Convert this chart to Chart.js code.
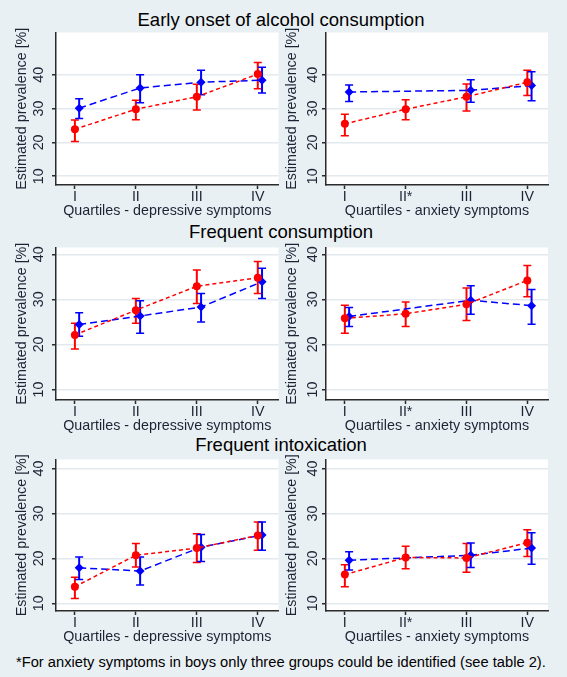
<!DOCTYPE html>
<html>
<head>
<meta charset="utf-8">
<script src="https://cdn.jsdelivr.net/npm/chart.js@4.4.1/dist/chart.umd.min.js"></script>
<style>
  body { margin: 0; background: #e9f0f4; }
  #page { position: relative; width: 567px; height: 677px; background: #e9f0f4; overflow: hidden;
          font-family: "Liberation Sans", Arial, sans-serif; }
  #page canvas { position: absolute; }
  .rowTitle { position: absolute; left: 0; width: 562px; text-align: center; font-size: 18.5px;
              line-height: 20px; color: #000; white-space: nowrap; }
  #note { position: absolute; left: 16px; top: 653.5px; font-size: 14.7px; line-height: 16px;
          color: #000; white-space: nowrap; }
</style>
</head>
<body>
<div id="page">
  <div class="rowTitle" style="top:9.6px">Early onset of alcohol consumption</div>
  <div class="rowTitle" style="top:221.6px">Frequent consumption</div>
  <div class="rowTitle" style="top:435.3px">Frequent intoxication</div>
  <div id="note">*For anxiety symptoms in boys only three groups could be identified (see table 2).</div>
</div>
<script>
// tick labels
const depLabels = ['I', 'II', 'III', 'IV'];
const anxLabels = ['I', 'II*', 'III', 'IV'];
const yTicks = [10, 20, 30, 40];

// Early onset of alcohol consumption (red = girls, blue = boys)
const earlyDepRed = [23.9, 29.8, 33.5, 40.2];
const earlyDepRedLo = [20.3, 26.7, 29.6, 35.9];
const earlyDepRedHi = [26.6, 32.5, 37.2, 43.6];
const earlyDepBlue = [30.1, 36.1, 37.8, 38.4];
const earlyDepBlueLo = [27.1, 31.7, 34.1, 34.6];
const earlyDepBlueHi = [32.9, 40.0, 41.3, 42.2];

const earlyAnxRed = [25.5, 29.8, 33.5, 37.8];
const earlyAnxRedLo = [22.0, 26.7, 29.3, 33.9];
const earlyAnxRedHi = [28.3, 32.6, 37.3, 41.3];
const earlyAnxBlue = [34.9, null, 35.4, 36.8];
const earlyAnxBlueLo = [32.1, null, 31.9, 32.3];
const earlyAnxBlueHi = [37.0, null, 38.5, 40.9];

// Frequent consumption
const consDepRed = [22.1, 27.6, 32.9, 34.8];
const consDepRedLo = [19.0, 24.7, 29.1, 31.3];
const consDepRedHi = [24.7, 30.2, 36.5, 38.4];
const consDepBlue = [24.4, 26.3, 28.3, 33.9];
const consDepBlueLo = [21.8, 22.5, 25.0, 30.2];
const consDepBlueHi = [27.0, 29.7, 31.3, 36.9];

const consAnxRed = [25.8, 26.8, 28.9, 34.2];
const consAnxRedLo = [22.5, 24.0, 25.3, 30.6];
const consAnxRedHi = [28.7, 29.4, 32.5, 37.5];
const consAnxBlue = [26.2, null, 29.8, 28.6];
const consAnxBlueLo = [24.0, null, 26.7, 24.5];
const consAnxBlueHi = [28.2, null, 33.0, 32.2];

// Frequent intoxication
const intoxDepRed = [13.7, 20.7, 22.3, 25.1];
const intoxDepRedLo = [11.1, 18.1, 19.1, 21.8];
const intoxDepRedHi = [15.8, 23.3, 25.5, 28.1];
const intoxDepBlue = [17.9, 17.2, 22.5, 25.2];
const intoxDepBlueLo = [15.3, 14.1, 19.3, 21.8];
const intoxDepBlueHi = [20.3, 20.3, 25.3, 28.1];

const intoxAnxRed = [16.4, 20.2, 20.1, 23.5];
const intoxAnxRedLo = [13.7, 17.7, 16.9, 20.4];
const intoxAnxRedHi = [18.6, 22.7, 23.3, 26.4];
const intoxAnxBlue = [19.6, null, 20.7, 22.3];
const intoxAnxBlueLo = [17.4, null, 18.0, 18.7];
const intoxAnxBlueHi = [21.5, null, 23.4, 25.7];

const RED = 'rgb(255, 0, 0)';
const BLUE = 'rgb(0, 0, 255)';
const AXIS = '#2b2b2b';
const TEXT = '#1c2434';
const FONT = { family: '"Liberation Sans", Arial, sans-serif', size: 14.3 };

// layout of the 3x2 grid
const columns = [
    { cx: 0, cw: 283, left: 56, right: 280, tickX: 39, titlePad: 13.6 },
    { cx: 283, cw: 284, left: 326, right: 548, tickX: 30, titlePad: 0 }
];
const rows = [
    { top: 30, bottom: 185, min: 7.4, max: 52.5 },
    { top: 245, bottom: 400, min: 7.67, max: 41.5 },
    { top: 457, bottom: 611, min: 8.3, max: 42.0 }
];

const panels = [
    { row: 0, col: 0, labels: depLabels, xTitle: 'Quartiles - depressive symptoms',
      red: [earlyDepRed, earlyDepRedLo, earlyDepRedHi], blue: [earlyDepBlue, earlyDepBlueLo, earlyDepBlueHi] },
    { row: 0, col: 1, labels: anxLabels, xTitle: 'Quartiles - anxiety symptoms',
      red: [earlyAnxRed, earlyAnxRedLo, earlyAnxRedHi], blue: [earlyAnxBlue, earlyAnxBlueLo, earlyAnxBlueHi] },
    { row: 1, col: 0, labels: depLabels, xTitle: 'Quartiles - depressive symptoms',
      red: [consDepRed, consDepRedLo, consDepRedHi], blue: [consDepBlue, consDepBlueLo, consDepBlueHi] },
    { row: 1, col: 1, labels: anxLabels, xTitle: 'Quartiles - anxiety symptoms',
      red: [consAnxRed, consAnxRedLo, consAnxRedHi], blue: [consAnxBlue, consAnxBlueLo, consAnxBlueHi] },
    { row: 2, col: 0, labels: depLabels, xTitle: 'Quartiles - depressive symptoms',
      red: [intoxDepRed, intoxDepRedLo, intoxDepRedHi], blue: [intoxDepBlue, intoxDepBlueLo, intoxDepBlueHi] },
    { row: 2, col: 1, labels: anxLabels, xTitle: 'Quartiles - anxiety symptoms',
      red: [intoxAnxRed, intoxAnxRedLo, intoxAnxRedHi], blue: [intoxAnxBlue, intoxAnxBlueLo, intoxAnxBlueHi] }
];

// white plot area, error bars and rotated y tick labels
const panelExtras = {
    id: 'panelExtras',
    beforeDraw(chart) {
        const a = chart.chartArea;
        const ctx = chart.ctx;
        ctx.save();
        ctx.fillStyle = '#ffffff';
        ctx.fillRect(a.left, a.top, a.right - a.left, a.bottom - a.top);
        ctx.restore();
    },
    beforeDatasetsDraw(chart) {
        const xs = chart.scales.x, ys = chart.scales.y, ctx = chart.ctx;
        chart.data.datasets.forEach(ds => {
            ctx.save();
            ctx.strokeStyle = ds.borderColor;
            ds.data.forEach((p, i) => {
                if (p.y == null) return;
                const px = xs.getPixelForValue(p.x);
                const top = ys.getPixelForValue(ds.hi[i]);
                const bot = ys.getPixelForValue(ds.lo[i]);
                ctx.lineWidth = 2;
                ctx.beginPath();
                ctx.moveTo(px, top);
                ctx.lineTo(px, bot);
                ctx.stroke();
                ctx.lineWidth = 1.5;
                ctx.beginPath();
                ctx.moveTo(px - 4, top); ctx.lineTo(px + 4, top);
                ctx.moveTo(px - 4, bot); ctx.lineTo(px + 4, bot);
                ctx.stroke();
            });
            ctx.restore();
        });
    },
    afterDraw(chart) {
        const ys = chart.scales.y, ctx = chart.ctx;
        const tickX = chart.options.plugins.panelExtras.tickX;
        ctx.save();
        ctx.fillStyle = TEXT;
        ctx.font = FONT.size + 'px ' + FONT.family;
        ctx.textAlign = 'center';
        ctx.textBaseline = 'middle';
        yTicks.forEach(v => {
            ctx.save();
            ctx.translate(tickX, ys.getPixelForValue(v));
            ctx.rotate(-Math.PI / 2);
            ctx.fillText(String(v), 0, 0);
            ctx.restore();
        });
        ctx.restore();
    }
};

function toPoints(values, shift) {
    return values.map((v, i) => ({ x: i + 1 + shift, y: v }));
}

function makePanel(p) {
    const col = columns[p.col], row = rows[p.row];
    const xHeight = 38;
    const cy = row.top - 2;
    const ch = row.bottom - cy + xHeight;

    const canvas = document.createElement('canvas');
    canvas.width = col.cw;
    canvas.height = ch;
    canvas.style.left = col.cx + 'px';
    canvas.style.top = cy + 'px';
    canvas.style.width = col.cw + 'px';
    canvas.style.height = ch + 'px';
    document.getElementById('page').appendChild(canvas);

    new Chart(canvas, {
        type: 'line',
        data: {
            datasets: [
                {
                    data: toPoints(p.red[0], 0),
                    lo: p.red[1], hi: p.red[2],
                    borderColor: RED, backgroundColor: RED,
                    borderWidth: 1.5, borderDash: [4, 3],
                    pointStyle: 'circle', pointRadius: 4, pointBorderWidth: 0,
                    spanGaps: true
                },
                {
                    data: toPoints(p.blue[0], 0.07),
                    lo: p.blue[1], hi: p.blue[2],
                    borderColor: BLUE, backgroundColor: BLUE,
                    borderWidth: 1.5, borderDash: [7, 4],
                    pointStyle: 'rectRot', pointRadius: 4.5, pointBorderWidth: 0,
                    spanGaps: true
                }
            ]
        },
        options: {
            responsive: false,
            animation: false,
            layout: {
                padding: { left: 0, top: row.top - cy, right: col.cx + col.cw - col.right, bottom: 0 }
            },
            plugins: {
                legend: { display: false },
                tooltip: { enabled: false },
                panelExtras: { tickX: col.tickX }
            },
            scales: {
                x: {
                    type: 'linear',
                    min: 0.69,
                    max: 4.34,
                    afterBuildTicks: s => { s.ticks = [1, 2, 3, 4].map(v => ({ value: v })); },
                    afterFit: s => { s.height = xHeight; },
                    ticks: {
                        callback: (v, i) => p.labels[i],
                        font: FONT, color: TEXT, padding: -1,
                        maxRotation: 0, autoSkip: false
                    },
                    grid: {
                        display: true, drawOnChartArea: false, drawTicks: true,
                        tickLength: 4, tickColor: AXIS, tickWidth: 1.5
                    },
                    border: { display: true, color: AXIS, width: 1.5 },
                    title: {
                        display: true, text: p.xTitle, font: FONT, color: TEXT,
                        padding: { top: 0, bottom: 3.6 }
                    }
                },
                y: {
                    min: row.min,
                    max: row.max,
                    afterBuildTicks: s => { s.ticks = yTicks.map(v => ({ value: v })); },
                    afterFit: s => { s.width = col.left - col.cx; },
                    ticks: { display: false },
                    grid: {
                        color: '#e2eaf0', lineWidth: 1.5,
                        tickColor: AXIS, tickLength: 4, tickWidth: 1.5
                    },
                    border: { display: true, color: AXIS, width: 1.5 },
                    title: {
                        display: true, text: 'Estimated prevalence [%]', font: FONT, color: TEXT,
                        padding: { top: col.titlePad, bottom: 0 }
                    }
                }
            }
        },
        plugins: [panelExtras]
    });
}

panels.forEach(makePanel);
</script>
</body>
</html>
